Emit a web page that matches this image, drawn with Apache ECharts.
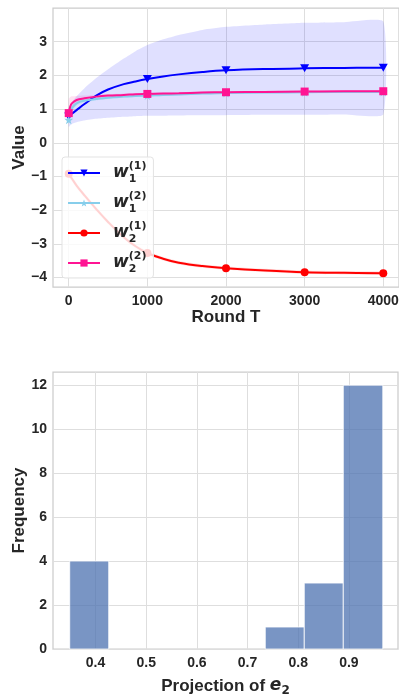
<!DOCTYPE html>
<html>
<head>
<meta charset="utf-8">
<script src="https://cdn.jsdelivr.net/npm/echarts@6/dist/echarts.min.js"></script>
<style>
html, body { margin: 0; padding: 0; background: #fff; }
#main { width: 399px; height: 694px; }
</style>
</head>
<body>
<div id="main"></div>
<script>
// top panel: weights over rounds
var roundT = [0, 20, 40, 100, 200, 350, 500, 700, 850, 1000, 1200, 1400, 1700, 2000, 2500, 3000, 3500, 4000];
var markerRounds = [0, 1000, 2000, 3000, 4000];
var w11 = [0.78, 0.82, 0.86, 0.97, 1.15, 1.40, 1.58, 1.74, 1.82, 1.89, 1.97, 2.03, 2.10, 2.15, 2.19, 2.21, 2.22, 2.23];
var w11Low = [0.47, 0.52, 0.56, 0.61, 0.66, 0.71, 0.74, 0.77, 0.79, 0.80, 0.805, 0.81, 0.815, 0.82, 0.83, 0.83, 0.84, 0.84];
var w11High = [1.06, 1.12, 1.20, 1.38, 1.62, 1.92, 2.18, 2.50, 2.72, 2.90, 3.07, 3.20, 3.35, 3.44, 3.51, 3.56, 3.58, 3.60];
var w12 = [0.68, 0.92, 1.03, 1.17, 1.25, 1.30, 1.34, 1.37, 1.39, 1.40, 1.42, 1.43, 1.46, 1.48, 1.49, 1.50, 1.51, 1.51];
var w12Low = [0.55, 0.80, 0.94, 1.10, 1.20, 1.26, 1.30, 1.34, 1.36, 1.37, 1.39, 1.40, 1.43, 1.45, 1.46, 1.47, 1.48, 1.48];
var w12High = [0.85, 1.02, 1.11, 1.23, 1.30, 1.34, 1.38, 1.40, 1.42, 1.43, 1.45, 1.46, 1.49, 1.51, 1.52, 1.53, 1.54, 1.54];
var w21 = [-0.92, -0.99, -1.06, -1.27, -1.56, -1.97, -2.35, -2.80, -3.07, -3.27, -3.44, -3.56, -3.66, -3.72, -3.79, -3.84, -3.86, -3.87];
var w21Low = [-1.02, -1.09, -1.15, -1.35, -1.63, -2.04, -2.42, -2.86, -3.13, -3.33, -3.49, -3.61, -3.71, -3.77, -3.84, -3.89, -3.91, -3.92];
var w21High = [-0.82, -0.89, -0.97, -1.19, -1.49, -1.90, -2.28, -2.74, -3.01, -3.21, -3.39, -3.51, -3.61, -3.67, -3.74, -3.79, -3.81, -3.82];
var w22 = [0.88, 1.08, 1.17, 1.27, 1.32, 1.37, 1.40, 1.42, 1.44, 1.45, 1.46, 1.47, 1.49, 1.50, 1.51, 1.52, 1.53, 1.53];
var w22Low = [0.75, 0.95, 1.05, 1.17, 1.24, 1.31, 1.35, 1.38, 1.41, 1.42, 1.43, 1.44, 1.46, 1.47, 1.48, 1.49, 1.50, 1.50];
var w22High = [1.30, 1.36, 1.38, 1.39, 1.40, 1.42, 1.44, 1.46, 1.47, 1.48, 1.49, 1.50, 1.52, 1.53, 1.54, 1.55, 1.56, 1.56];
var roundTicks = [0, 1000, 2000, 3000, 4000];
var valueTicks = [-4, -3, -2, -1, 0, 1, 2, 3];

// bottom panel: histogram of projections
var binEdges = [0.349, 0.426, 0.503, 0.581, 0.658, 0.735, 0.812, 0.889, 0.967];
var binCounts = [4, 0, 0, 0, 0, 1, 3, 12];
var projTicks = [0.4, 0.5, 0.6, 0.7, 0.8, 0.9];
var freqTicks = [0, 2, 4, 6, 8, 10, 12];

var textColor = '#262626';
var gridColor = '#dedede';
var tickFont = { color: textColor, fontSize: 14, fontWeight: 'bold', fontFamily: 'Liberation Sans' };
var nameFont = { color: textColor, fontSize: 17, fontWeight: 'bold', fontFamily: 'Liberation Sans' };
var starPath = 'path://M12 0 L14.9 8.1 L23.4 8.1 L16.5 13.1 L19.1 21.3 L12 16.3 L4.9 21.3 L7.5 13.1 L0.6 8.1 L9.1 8.1 Z';
var downTri = 'path://M0 0 L10 0 L5 9 Z';

function minus(v) {
  return v < 0 ? '\u2212' + Math.abs(v) : String(v);
}

function bandSeries(low, high, color) {
  return {
    type: 'custom',
    xAxisIndex: 0, yAxisIndex: 0,
    silent: true, z: 1,
    data: [[0, 0]],
    renderItem: function (params, api) {
      var pts = [];
      for (var i = 0; i < roundT.length; i++) pts.push(api.coord([roundT[i], high[i]]));
      for (var j = roundT.length - 1; j >= 0; j--) pts.push(api.coord([roundT[j], low[j]]));
      return { type: 'polygon', shape: { points: pts, smooth: 0.15 }, style: { fill: color } };
    }
  };
}

function lineSeries(name, vals, color, symbol, size) {
  return {
    name: name, type: 'line', xAxisIndex: 0, yAxisIndex: 0,
    smooth: 0.4, z: 3,
    symbol: symbol, symbolSize: size,
    lineStyle: { color: color, width: 2 },
    itemStyle: { color: color },
    data: roundT.map(function (t, i) {
      if (markerRounds.indexOf(t) >= 0) return [t, vals[i]];
      return { value: [t, vals[i]], symbol: 'none' };
    })
  };
}

var myChart = echarts.init(document.getElementById('main'));

var option = {
  animation: false,
  backgroundColor: '#fff',
  grid: [
    { left: 53, top: 8, width: 346, height: 279, show: true, borderColor: '#cccccc', borderWidth: 1.25, outerBoundsMode: 'none' },
    { left: 53, top: 372, width: 345, height: 277, show: true, borderColor: '#cccccc', borderWidth: 1.25, outerBoundsMode: 'none' }
  ],
  legend: {
    orient: 'vertical', left: 62, top: 157,
    padding: [4, 7, 3, 5],
    itemWidth: 32, itemHeight: 9, itemGap: 6,
    backgroundColor: 'rgba(255,255,255,0.82)',
    borderColor: '#e3e3e3', borderWidth: 1, borderRadius: 3,
    data: ['w1(1)', 'w1(2)', 'w2(1)', 'w2(2)'],
    formatter: function (name) {
      return '{w|w}{sub|' + name[1] + '}{sup|(' + name[3] + ')}';
    },
    textStyle: {
      color: textColor,
      rich: {
        w: { fontFamily: 'DejaVu Sans', fontStyle: 'italic', fontWeight: 'bold', fontSize: 17, lineHeight: 24, verticalAlign: 'middle', padding: [0, 0, 0, 8], color: textColor },
        sub: { fontFamily: 'DejaVu Sans', fontWeight: 'bold', fontSize: 11, lineHeight: 12, verticalAlign: 'bottom', width: 0, color: textColor },
        sup: { fontFamily: 'DejaVu Sans', fontWeight: 'bold', fontSize: 11, lineHeight: 12, verticalAlign: 'top', color: textColor }
      }
    }
  },
  xAxis: [
    {
      type: 'value', gridIndex: 0, min: -200, max: 4200,
      name: 'Round T', nameLocation: 'middle', nameGap: 22, nameMoveOverlap: false, nameTextStyle: nameFont,
      axisLine: { show: false },
      axisTick: { show: false, customValues: roundTicks },
      axisLabel: Object.assign({ customValues: roundTicks, margin: 7, formatter: function (v) { return String(v); } }, tickFont),
      splitLine: { show: true, lineStyle: { color: gridColor, width: 1 } }
    },
    {
      type: 'value', gridIndex: 1, min: 0.316, max: 0.997,
      name: 'Projection of {e|e}{s|2}', nameLocation: 'middle', nameGap: 26, nameMoveOverlap: false,
      nameTextStyle: Object.assign({
        lineHeight: 22,
        rich: {
          e: { fontFamily: 'DejaVu Sans', fontStyle: 'italic', fontWeight: 'bold', fontSize: 17, lineHeight: 22, color: textColor },
          s: { fontFamily: 'DejaVu Sans', fontWeight: 'bold', fontSize: 12, lineHeight: 14, verticalAlign: 'bottom', color: textColor }
        }
      }, nameFont),
      axisLine: { show: false },
      axisTick: { show: false, customValues: projTicks },
      axisLabel: Object.assign({ customValues: projTicks, margin: 7, formatter: function (v) { return v.toFixed(1); } }, tickFont),
      splitLine: { show: true, lineStyle: { color: gridColor, width: 1 } }
    }
  ],
  yAxis: [
    {
      type: 'value', gridIndex: 0, min: -4.28, max: 4.0,
      name: 'Value', nameLocation: 'middle', nameGap: 25, nameMoveOverlap: false, nameTextStyle: nameFont,
      axisLine: { show: false },
      axisTick: { show: false, customValues: valueTicks },
      axisLabel: Object.assign({ customValues: valueTicks, margin: 6, formatter: minus }, tickFont),
      splitLine: { show: true, lineStyle: { color: gridColor, width: 1 } }
    },
    {
      type: 'value', gridIndex: 1, min: 0, max: 12.6,
      name: 'Frequency', nameLocation: 'middle', nameGap: 25, nameMoveOverlap: false, nameTextStyle: nameFont,
      axisLine: { show: false },
      axisTick: { show: false, customValues: freqTicks },
      axisLabel: Object.assign({ customValues: freqTicks, margin: 6 }, tickFont),
      splitLine: { show: true, lineStyle: { color: gridColor, width: 1 } }
    }
  ],
  series: [
    bandSeries(w11Low, w11High, 'rgba(0,0,255,0.12)'),
    bandSeries(w12Low, w12High, 'rgba(135,206,235,0.25)'),
    bandSeries(w21Low, w21High, 'rgba(255,0,0,0.12)'),
    bandSeries(w22Low, w22High, 'rgba(255,20,147,0.12)'),
    lineSeries('w1(1)', w11, '#0000ff', downTri, [9, 8]),
    lineSeries('w1(2)', w12, '#87ceeb', starPath, 9),
    lineSeries('w2(1)', w21, '#ff0000', 'circle', 8),
    lineSeries('w2(2)', w22, '#ff1493', 'rect', 8),
    {
      type: 'custom', xAxisIndex: 1, yAxisIndex: 1,
      data: binCounts.map(function (c, i) { return [binEdges[i], binEdges[i + 1], c]; }),
      encode: { x: [0, 1], y: 2 },
      renderItem: function (params, api) {
        var p0 = api.coord([api.value(0), api.value(2)]);
        var p1 = api.coord([api.value(1), 0]);
        if (api.value(2) <= 0) return null;
        return {
          type: 'rect',
          shape: { x: p0[0], y: p0[1], width: p1[0] - p0[0], height: p1[1] - p0[1] },
          style: { fill: 'rgba(76,114,176,0.75)', stroke: 'rgba(255,255,255,0.8)', lineWidth: 1 }
        };
      }
    }
  ]
};

myChart.setOption(option);
</script>
</body>
</html>
